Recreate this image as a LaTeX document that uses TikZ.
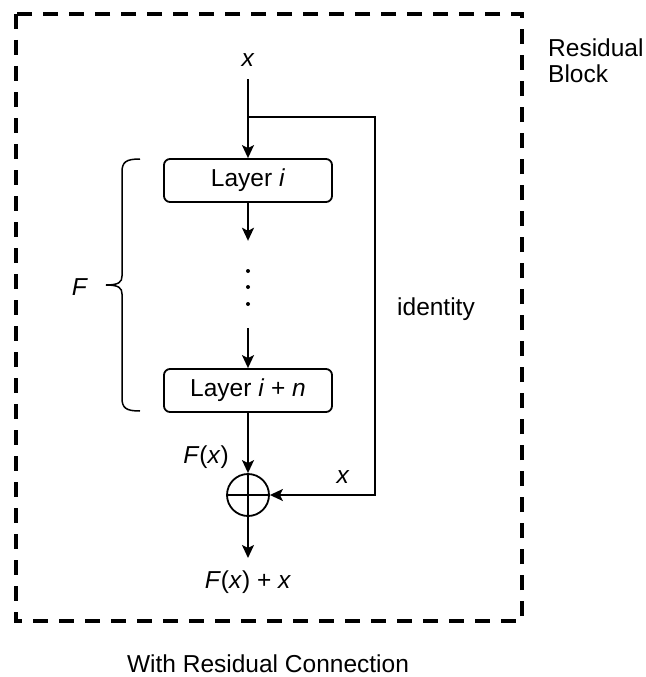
\documentclass[tikz,border=0pt]{standalone}
\usepackage{fontspec}
\setmainfont{Liberation Sans}
\usetikzlibrary{arrows.meta}
\begin{document}
\begin{tikzpicture}[x=1pt,y=-1pt,
  every node/.style={font=\fontsize{24.5}{27}\selectfont},
  layerbox/.style={draw, line width=1.8pt, rounded corners=6pt, minimum width=168pt, minimum height=43pt, inner sep=0pt},
  conn/.style={line width=1.8pt},
  arr/.style={conn, -{Stealth[length=13pt,width=12pt,inset=3pt]}},
  lbl/.style={inner sep=0pt}
]
\useasboundingbox (0,0) rectangle (645,677);
% dashed block frame
\draw[line width=4pt, dash pattern=on 15pt off 11pt] (16,14) rectangle (522,621);
\node[lbl, anchor=north west, align=left, font=\fontsize{24.5}{26}\selectfont] (title) at (548,39) {Residual\\Block};

% input
\node[lbl] (xin) at (248,60) {\textit{x}};
\coordinate (xstart) at (248,79);
\coordinate (split) at (248,117);
\coordinate (rtop) at (375,117);
\coordinate (rbot) at (375,495);

% layers
\node[layerbox] (l1) at (248,180.5) {Layer \textit{i}};
\node[minimum height=87pt, minimum width=4pt, inner sep=0pt] (dots) at (248,284.5) {};
\node[layerbox] (l2) at (248,390.5) {Layer \textit{i} + \textit{n}};
\fill (248,271) circle (2pt) (248,287) circle (2pt) (248,304) circle (2pt);

% sum
\node[draw, circle, line width=1.8pt, minimum size=42pt, inner sep=0pt] (sum) at (248,495) {};
\draw[conn] (sum.north) -- (sum.south) (sum.west) -- (sum.east);

\node[lbl] (out) at (248,582) {\textit{F}(\textit{x}) + \textit{x}};
\coordinate (outtip) at (248,558);

% connectors
\draw[conn] (xstart) -- (split);
\draw[arr] (split) -- (l1.north);
\draw[arr] (l1.south) -- (dots.north);
\draw[arr] (dots.south) -- (l2.north);
\draw[arr] (l2.south) -- (sum.north);
\draw[arr] (sum.south) -- (outtip);
\draw[arr] (split) -- (rtop) -- (rbot) -- (sum.east);

% labels
\node[lbl] (fx) at (206,457) {\textit{F}(\textit{x})};
\node[lbl] (xr) at (343,477) {\textit{x}};
\node[lbl] (ident) at (436,309) {identity};
\node[lbl] (F) at (80,287) {\textit{F}};

% brace
\draw[line width=1.5pt] (140,159) .. controls (126,159) and (122,162) .. (122,172) -- (122,276)
  .. controls (122,282) and (119,285) .. (106,285)
  .. controls (119,285) and (122,288) .. (122,294) -- (122,398)
  .. controls (122,408) and (126,411) .. (140,411);

\node[lbl] (caption) at (268,664) {With Residual Connection};
\end{tikzpicture}
\end{document}
